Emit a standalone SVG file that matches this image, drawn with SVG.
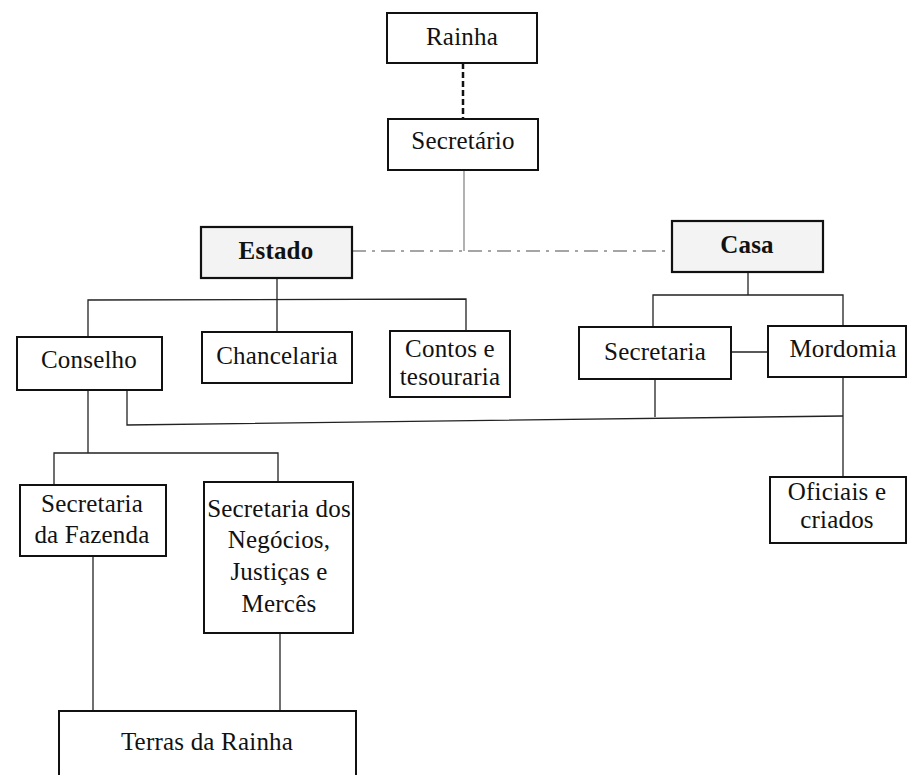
<svg xmlns="http://www.w3.org/2000/svg" width="908" height="775" viewBox="0 0 908 775">
<style>
.box{fill:#fff;stroke:#111;stroke-width:2}
.sh{fill:#f3f3f3;stroke:#111;stroke-width:2.2}
.t{font-family:"Liberation Serif","Times New Roman",serif;font-size:25px;letter-spacing:0.2px;fill:#111;text-anchor:middle}
.b{font-weight:bold}
.c{fill:none;stroke:#222;stroke-width:1.3}
.g{fill:none;stroke:#888;stroke-width:1.3}
</style>
<rect width="908" height="775" fill="#fff"/>
<g id="connectors">
<line x1="463" y1="63" x2="463" y2="119" stroke="#111" stroke-width="2.5" stroke-dasharray="6 3"/>
<line class="g" x1="464" y1="170" x2="464" y2="251"/>
<line class="g" x1="352" y1="251" x2="672" y2="251" stroke-dasharray="14 6 3 6"/>
<line class="c" x1="277" y1="278" x2="277" y2="332"/>
<polyline class="c" points="88,337 88,300 466,299 466,331"/>
<line class="c" x1="748" y1="272" x2="748" y2="295"/>
<polyline class="c" points="653,327 653,295 843,295 843,326"/>
<line class="c" x1="731" y1="352" x2="768" y2="352"/>
<line class="c" x1="655" y1="379" x2="655" y2="417"/>
<polyline class="c" points="127,390 127,425 843,416"/>
<line class="c" x1="843" y1="377" x2="843" y2="477"/>
<line class="c" x1="88" y1="390" x2="88" y2="453"/>
<polyline class="c" points="54,485 54,453 278,453 278,482"/>
<line class="c" x1="93" y1="556" x2="93" y2="711"/>
<line class="c" x1="280" y1="633" x2="280" y2="711"/>
</g>
<g id="rainha"><rect class="box" x="387" y="13" width="150" height="50"/><text class="t" x="462" y="45">Rainha</text></g>
<g id="secretario"><rect class="box" x="388" y="119" width="150" height="51"/><text class="t" x="463" y="149">Secretário</text></g>
<g id="estado"><rect class="sh" x="201" y="227" width="151" height="51"/><text class="t b" x="276" y="259">Estado</text></g>
<g id="casa"><rect class="sh" x="672" y="221" width="151" height="51"/><text class="t b" x="747" y="253">Casa</text></g>
<g id="conselho"><rect class="box" x="17" y="337" width="145" height="53"/><text class="t" x="89" y="368">Conselho</text></g>
<g id="chancelaria"><rect class="box" x="202" y="332" width="150" height="51"/><text class="t" x="277" y="364">Chancelaria</text></g>
<g id="contos"><rect class="box" x="390" y="331" width="120" height="66"/><text class="t" x="450" y="357">Contos e</text><text class="t" x="450" y="385">tesouraria</text></g>
<g id="secretaria-casa"><rect class="box" x="579" y="327" width="152" height="52"/><text class="t" x="655" y="360">Secretaria</text></g>
<g id="mordomia"><rect class="box" x="768" y="326" width="138" height="51"/><text class="t" x="843" y="357">Mordomia</text></g>
<g id="oficiais"><rect class="box" x="770" y="477" width="136" height="66"/><text class="t" x="837" y="500">Oficiais e</text><text class="t" x="837" y="528">criados</text></g>
<g id="fazenda"><rect class="box" x="20" y="485" width="146" height="71"/><text class="t" x="92" y="512">Secretaria</text><text class="t" x="92" y="543">da Fazenda</text></g>
<g id="negocios"><rect class="box" x="204" y="482" width="149" height="151"/><text class="t" x="279" y="517">Secretaria dos</text><text class="t" x="279" y="548">Negócios,</text><text class="t" x="279" y="580">Justiças e</text><text class="t" x="279" y="612">Mercês</text></g>
<g id="terras"><rect class="box" x="59" y="711" width="297" height="80"/><text class="t" x="207" y="750">Terras da Rainha</text></g>
</svg>
